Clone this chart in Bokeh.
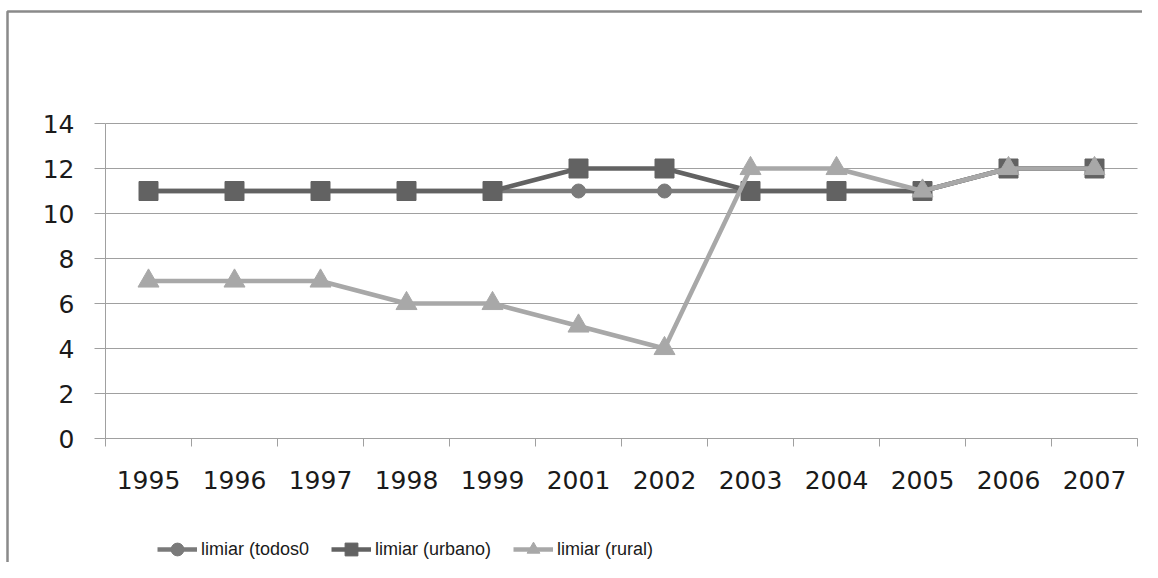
from bokeh.plotting import figure
from bokeh.models import FixedTicker, Legend, LegendItem, ColumnDataSource, LinearAxis, Range1d
from bokeh.embed import file_html
from bokeh.resources import INLINE

years = ["1995", "1996", "1997", "1998", "1999", "2001", "2002", "2003", "2004", "2005", "2006", "2007"]
todos = [11, 11, 11, 11, 11, 11, 11, 11, 11, 11, 12, 12]
urbano = [11, 11, 11, 11, 11, 12, 12, 11, 11, 11, 12, 12]
rural = [7, 7, 7, 6, 6, 5, 4, 12, 12, 11, 12, 12]
y_ticks = [0, 2, 4, 6, 8, 10, 12, 14]
names = ["limiar (todos0", "limiar (urbano)", "limiar (rural)"]

W, H = 1142, 562
# layout of the plotting area inside the canvas (pixels)
PL, PR, PT, PB = 105, 1137, 123, 438
BOX_L, BOX_T = 7, 11
n = len(years)
ymax = y_ticks[-1]
sx = (PR - PL) / n
sy = (PB - PT) / ymax
x_lo, x_hi = -PL / sx, (W - PL) / sx
y_lo, y_hi = -(H - PB) / sy, PB / sy

xs = [i + 0.5 for i in range(n)]
src = ColumnDataSource(dict(x=xs, todos=todos, urbano=urbano, rural=rural))

p = figure(width=W, height=H, output_backend="svg", toolbar_location=None,
           x_axis_location=None, y_axis_location=None,
           x_range=Range1d(x_lo, x_hi), y_range=Range1d(y_lo, y_hi),
           min_border=0, min_border_left=0, min_border_right=0, min_border_top=0, min_border_bottom=0)
p.outline_line_color = None
p.background_fill_color = "white"
p.border_fill_color = "white"
p.grid.visible = False

# outer chart-area border (left and top edges; the others lie outside the picture)
bx, by = (BOX_L - PL) / sx, (PB - BOX_T) / sy
p.multi_line(xs=[[bx, bx, x_hi + 1]], ys=[[y_lo - 1, by, by]], line_color="#8a8a8a", line_width=2.5)

grid_col = "#a0a0a0"
# horizontal grid lines across the plotting area
p.segment(x0=[0] * len(y_ticks), x1=[n] * len(y_ticks), y0=y_ticks, y1=y_ticks,
          line_color=grid_col, line_width=1)

xaxis = LinearAxis(fixed_location=0, bounds=(0, n))
xaxis.ticker = FixedTicker(ticks=xs, minor_ticks=list(range(n + 1)))
xaxis.major_label_overrides = {x: y for x, y in zip(xs, years)}
xaxis.major_tick_out = 0
xaxis.major_tick_in = 0
xaxis.minor_tick_out = 8
xaxis.minor_tick_in = 0
xaxis.minor_tick_line_color = grid_col
xaxis.axis_line_color = grid_col
xaxis.major_label_standoff = 24
xaxis.major_label_text_font = "DejaVu Sans"
xaxis.major_label_text_font_size = "25px"
xaxis.major_label_text_color = "#1a1a1a"
p.add_layout(xaxis, "below")

yaxis = LinearAxis(fixed_location=0, bounds=(0, ymax))
yaxis.ticker = FixedTicker(ticks=y_ticks)
yaxis.major_tick_out = 11
yaxis.major_tick_in = 0
yaxis.minor_tick_line_color = None
yaxis.major_tick_line_color = grid_col
yaxis.axis_line_color = grid_col
yaxis.major_label_standoff = 20
yaxis.major_label_text_font = "DejaVu Sans"
yaxis.major_label_text_font_size = "25px"
yaxis.major_label_text_color = "#1a1a1a"
p.add_layout(yaxis, "left")

# series
c1, c2, c3 = "#7a7a7a", "#626262", "#a8a8a8"
l1 = p.line("x", "todos", source=src, line_color=c1, line_width=4.5)
m1 = p.scatter("x", "todos", source=src, marker="circle", size=14, fill_color=c1, line_color=c1)
l2 = p.line("x", "urbano", source=src, line_color=c2, line_width=4.5)
m2 = p.scatter("x", "urbano", source=src, marker="square", size=19, fill_color=c2, line_color=c2)
l3 = p.line("x", "rural", source=src, line_color=c3, line_width=4.5)
m3 = p.scatter("x", "rural", source=src, marker="triangle", size=21, fill_color=c3, line_color=c3)

legend = Legend(items=[LegendItem(label=names[0], renderers=[l1, m1]),
                       LegendItem(label=names[1], renderers=[l2, m2]),
                       LegendItem(label=names[2], renderers=[l3, m3])],
                location=(157, -3), orientation="horizontal",
                glyph_width=40, glyph_height=32, label_standoff=4, spacing=22,
                padding=0, margin=0, border_line_color=None, background_fill_alpha=0,
                label_text_font="Liberation Sans",
                label_text_font_size="18px", label_text_color="#1a1a1a")
p.add_layout(legend)

open("out.html", "w").write(file_html(p, INLINE))
